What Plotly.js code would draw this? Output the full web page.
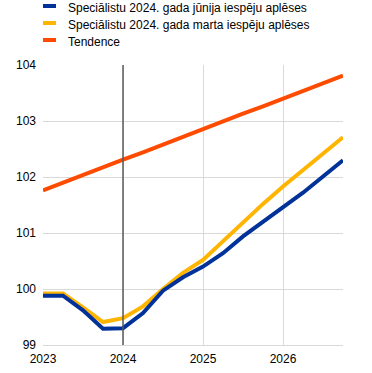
<!DOCTYPE html>
<html>
<head>
<meta charset="utf-8">
<script src="https://cdn.plot.ly/plotly-3.0.1.min.js"></script>
<style>html,body{margin:0;padding:0;background:#fff;}#chart{width:372px;height:373px;}</style>
</head>
<body>
<div id="chart"></div>
<script>
// Quarterly dates (decimal years)
var quarters = [2023.0, 2023.25, 2023.5, 2023.75, 2024.0, 2024.25, 2024.5, 2024.75,
                2025.0, 2025.25, 2025.5, 2025.75, 2026.0, 2026.25, 2026.5, 2026.75];
var seriesNames = ["Speciālistu 2024. gada jūnija iespēju aplēses",
                   "Speciālistu 2024. gada marta iespēju aplēses",
                   "Tendence"];
var juneValues  = [99.88, 99.88, 99.62, 99.29, 99.30, 99.57, 99.97, 100.21,
                   100.40, 100.64, 100.94, 101.20, 101.46, 101.72, 102.01, 102.30];
var marchValues = [99.92, 99.92, 99.67, 99.41, 99.48, 99.69, 100.00, 100.29,
                   100.52, 100.86, 101.20, 101.52, 101.83, 102.13, 102.42, 102.71];
var trendValues = [101.76, 101.90, 102.03, 102.17, 102.31, 102.44, 102.58, 102.72,
                   102.85, 102.99, 103.13, 103.26, 103.40, 103.54, 103.67, 103.81];
var xTickVals = [2023, 2024, 2025, 2026];
var xTickText = ["2023", "2024", "2025", "2026"];
var yTickVals = [99, 100, 101, 102, 103, 104];
var markerYear = 2024;

var colors = ["#003299", "#FFB400", "#FF4B00"];
var seriesValues = [juneValues, marchValues, trendValues];

var traces = [2, 1, 0].map(function (i) {
  return {
    x: quarters, y: seriesValues[i], type: "scatter", mode: "lines",
    name: seriesNames[i], showlegend: false,
    line: {color: colors[i], width: 4}
  };
});

var shapes = [{
  type: "line", xref: "x", yref: "paper", x0: markerYear, x1: markerYear, y0: 0, y1: 1,
  line: {color: "#5a5a5a", width: 1.5}
}];
var annotations = [];
var legendY = [6, 23, 40]; // pixel rows from top
seriesNames.forEach(function (n, i) {
  var yp = 1 + (65 - legendY[i]) / 280;
  shapes.push({
    type: "line", xref: "paper", yref: "paper",
    x0: 0, x1: 13 / 300, y0: yp, y1: yp,
    line: {color: colors[i], width: 4}
  });
  annotations.push({
    xref: "paper", yref: "paper", x: 23 / 300, y: yp - 2 / 280,
    xanchor: "left", yanchor: "middle", showarrow: false,
    text: n, font: {family: "Liberation Sans, Arial, sans-serif", size: 12, color: "#000"}
  });
});

var layout = {
  width: 372, height: 373,
  margin: {l: 43, r: 29, t: 65, b: 28, pad: 0},
  paper_bgcolor: "#fff", plot_bgcolor: "#fff",
  font: {family: "Liberation Sans, Arial, sans-serif", size: 12, color: "#000"},
  showlegend: false,
  xaxis: {
    range: [2023, 2026.75], tickvals: xTickVals, ticktext: xTickText,
    showgrid: true, gridcolor: "#d9d9d9", gridwidth: 1,
    zeroline: false, showline: true, linecolor: "#d9d9d9", linewidth: 1,
    ticks: "", ticklabelstandoff: 3
  },
  yaxis: {
    range: [99, 104], tickvals: yTickVals,
    showgrid: true, gridcolor: "#d9d9d9", gridwidth: 1,
    zeroline: false, showline: false, ticks: "", ticklabelstandoff: 6
  },
  shapes: shapes,
  annotations: annotations
};

Plotly.newPlot("chart", traces, layout, {displayModeBar: false, staticPlot: true});
</script>
</body>
</html>
